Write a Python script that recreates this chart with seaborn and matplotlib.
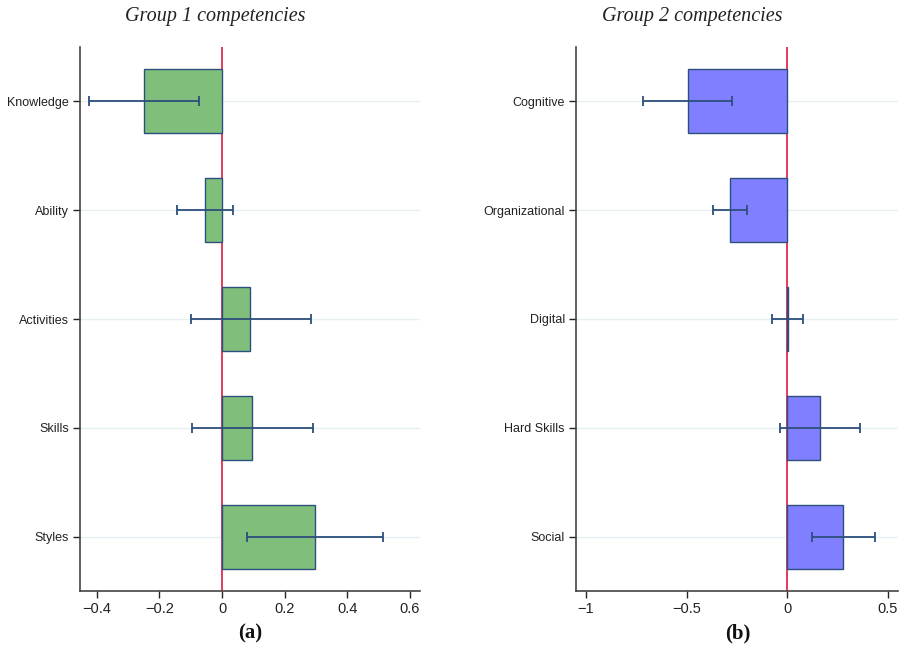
import matplotlib
matplotlib.use("Agg")
import matplotlib.pyplot as plt
import seaborn as sns
import pandas as pd
import numpy as np

sns.set_theme(style="white")
plt.rcParams["font.family"] = ["Liberation Sans", "DejaVu Sans"]

# Group 1 competencies: coefficient and 95% CI
g1_labels = ["Knowledge", "Ability", "Activities", "Skills", "Styles"]
g1_coef = [-0.249, -0.053, 0.089, 0.095, 0.297]
g1_lo = [-0.425, -0.143, -0.099, -0.097, 0.079]
g1_hi = [-0.074, 0.035, 0.284, 0.290, 0.515]

# Group 2 competencies: coefficient and 95% CI
g2_labels = ["Cognitive", "Organizational", "Digital", "Hard Skills", "Social"]
g2_coef = [-0.493, -0.284, 0.004, 0.162, 0.279]
g2_lo = [-0.715, -0.368, -0.074, -0.036, 0.123]
g2_hi = [-0.274, -0.201, 0.081, 0.364, 0.437]

g1_ticks = [-0.4, -0.2, 0, 0.2, 0.4, 0.6]
g1_ticklabels = ["\u22120.4", "\u22120.2", "0", "0.2", "0.4", "0.6"]
g2_ticks = [-1, -0.5, 0, 0.5]
g2_ticklabels = ["\u22121", "\u22120.5", "0", "0.5"]

EDGE = "#2c4f7c"
ZERO = "#e0193f"
GRID = "#e6eff2"

fig = plt.figure(figsize=(9.06, 6.49), dpi=100)
W, H = 906, 649
ax1 = fig.add_axes([80 / W, 58 / H, 340 / W, 544 / H])
ax2 = fig.add_axes([576 / W, 58 / H, 322 / W, 544 / H])


def panel(ax, labels, coef, lo, hi, color, xlim, ticks, ticklabels):
    df = pd.DataFrame({"comp": labels, "coef": coef})
    for i in range(len(labels)):
        ax.axhline(i, color=GRID, lw=1.0, zorder=0)
    ax.axvline(0, color=ZERO, lw=1.2, zorder=1)
    sns.barplot(data=df, y="comp", x="coef", orient="h", color=color,
                saturation=1, width=0.59, edgecolor=EDGE, linewidth=1.0,
                errorbar=None, ax=ax, zorder=2)
    c = np.array(coef)
    ax.errorbar(x=c, y=np.arange(len(labels)),
                xerr=[c - np.array(lo), np.array(hi) - c],
                fmt="none", ecolor=EDGE, elinewidth=1.3, capsize=3.5,
                capthick=1.3, zorder=4)
    ax.set_xlim(*xlim)
    ax.set_ylim(len(labels) - 0.5, -0.5)
    ax.set_xticks(ticks)
    ax.set_xticklabels(ticklabels, fontsize=10.5, color="#222222")
    ax.tick_params(axis="y", labelsize=9, colors="#222222", length=5,
                   width=1, direction="out", left=True, pad=3)
    ax.tick_params(axis="x", length=5, width=1, direction="out", bottom=True,
                   pad=3)
    ax.set_xlabel("")
    ax.set_ylabel("")
    for s in ["top", "right"]:
        ax.spines[s].set_visible(False)
    for s in ["left", "bottom"]:
        ax.spines[s].set_color("#444444")
        ax.spines[s].set_linewidth(1.2)


panel(ax1, g1_labels, g1_coef, g1_lo, g1_hi, "#7fbf7b",
      (-0.454, 0.633), g1_ticks, g1_ticklabels)
panel(ax2, g2_labels, g2_coef, g2_lo, g2_hi, "#7f7fff",
      (-1.05, 0.552), g2_ticks, g2_ticklabels)

serif = ["Liberation Serif", "DejaVu Serif"]
fig.text(215 / W, 1 - 17 / H, "Group 1 competencies", ha="center", va="center",
         fontsize=14.5, style="italic", family=serif, color="#222222")
fig.text(692 / W, 1 - 17 / H, "Group 2 competencies", ha="center", va="center",
         fontsize=14.5, style="italic", family=serif, color="#222222")
fig.text(250 / W, 1 - 633 / H, "(a)", ha="center", va="center",
         fontsize=15, weight="bold", family=serif, color="#111111")
fig.text(738 / W, 1 - 633 / H, "(b)", ha="center", va="center",
         fontsize=15, weight="bold", family=serif, color="#111111")

fig.savefig("out.png", dpi=100)
